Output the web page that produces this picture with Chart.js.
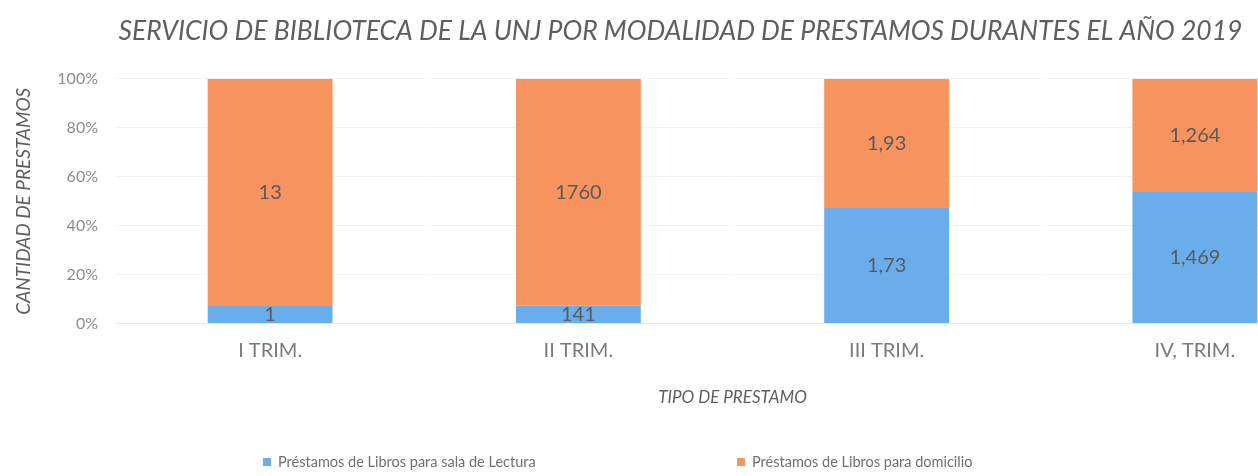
<!DOCTYPE html>
<html>
<head>
<meta charset="utf-8">
<script src="https://cdn.jsdelivr.net/npm/chart.js@4.4.0/dist/chart.umd.min.js"></script>
<style>
    html, body { margin: 0; padding: 0; background: #fff; overflow: hidden; }
    #wrap { position: absolute; left: 0; top: 0; width: 1376px; height: 476px; }
</style>
</head>
<body>
<div id="wrap"><canvas id="chart"></canvas></div>
<script>
var categories = ['I TRIM.', 'II TRIM.', 'III TRIM.', 'IV, TRIM.'];
var salaLectura = [1, 141, 1.73, 1469];
var domicilio = [13, 1760, 1.93, 1264];
var salaLecturaLabels = ['1', '141', '1,73', '1,469'];
var domicilioLabels = ['13', '1760', '1,93', '1,264'];
var yTicks = [0, 20, 40, 60, 80, 100];

var blue = '#69aeeb';
var orange = '#f7935f';
var textGray = '#707070';
var fontFamily = 'Lato, "Open Sans", sans-serif';

// stacked 100%: each bar share of the trimester total
function share(values, other) {
    return values.map(function (v, i) {
        return v / (v + other[i]) * 100;
    });
}

var segmentLabels = {
    id: 'segmentLabels',
    afterDatasetsDraw: function (chart) {
        var ctx = chart.ctx;
        ctx.save();
        ctx.font = '20px ' + fontFamily;
        ctx.fillStyle = '#5a5a5a';
        ctx.textAlign = 'center';
        ctx.textBaseline = 'middle';
        chart.data.datasets.forEach(function (ds, di) {
            chart.getDatasetMeta(di).data.forEach(function (bar, i) {
                var mid = (bar.y + bar.base) / 2;
                ctx.fillText(ds.valueLabels[i], bar.x, mid);
            });
        });
        ctx.restore();
    }
};

var bottomLegend = {
    id: 'bottomLegend',
    afterDraw: function (chart) {
        var ctx = chart.ctx;
        var slot = 474, box = 8;
        ctx.save();
        ctx.font = '14.5px ' + fontFamily;
        ctx.textBaseline = 'middle';
        var x = chart.width / 2 - 425;
        var y = 462;
        chart.data.datasets.forEach(function (ds) {
            ctx.fillStyle = ds.backgroundColor;
            ctx.fillRect(x, y - box / 2, box, box);
            ctx.fillStyle = textGray;
            ctx.fillText(ds.label, x + box + 7, y);
            x += slot;
        });
        ctx.restore();
    }
};

var ctx = document.getElementById('chart').getContext('2d');
var myChart = new Chart(ctx, {
    type: 'bar',
    data: {
        labels: categories,
        datasets: [
            {
                label: 'Préstamos de Libros para sala de Lectura',
                data: share(salaLectura, domicilio),
                valueLabels: salaLecturaLabels,
                backgroundColor: blue,
                barPercentage: 0.405,
                categoryPercentage: 1
            },
            {
                label: 'Préstamos de Libros para domicilio',
                data: share(domicilio, salaLectura),
                valueLabels: domicilioLabels,
                backgroundColor: orange,
                barPercentage: 0.405,
                categoryPercentage: 1
            }
        ]
    },
    options: {
        responsive: true,
        maintainAspectRatio: false,
        animation: false,
        layout: { padding: { left: 12, right: 27, top: 16, bottom: 68 } },
        plugins: {
            legend: { display: false },
            tooltip: { enabled: false },
            title: {
                display: true,
                text: 'SERVICIO DE BIBLIOTECA DE LA UNJ POR MODALIDAD DE PRESTAMOS DURANTES EL AÑO 2019',
                color: '#5e5e5e',
                font: { family: fontFamily, size: 26.5, style: 'italic', weight: 'normal' },
                padding: { top: 0, bottom: 31 }
            }
        },
        scales: {
            x: {
                stacked: true,
                grid: { display: false, drawTicks: false },
                border: { color: '#e6e6e6' },
                ticks: {
                    color: '#7a7a7a',
                    padding: 15,
                    font: { family: fontFamily, size: 20 }
                },
                title: {
                    display: true,
                    text: 'TIPO DE PRESTAMO',
                    color: '#5e5e5e',
                    padding: { top: 10, bottom: 0 },
                    font: { family: fontFamily, size: 17, style: 'italic' }
                }
            },
            y: {
                stacked: true,
                min: 0,
                max: 100,
                afterFit: function (scale) { scale.width = 104; },
                afterBuildTicks: function (scale) {
                    scale.ticks = yTicks.map(function (v) { return { value: v }; });
                },
                grid: { color: '#f3f3f3', drawTicks: false },
                border: { display: false },
                ticks: {
                    color: '#8c8c8c',
                    padding: 18,
                    font: { family: fontFamily, size: 16 },
                    callback: function (v) { return v + '%'; }
                },
                title: {
                    display: true,
                    text: 'CANTIDAD DE PRESTAMOS',
                    color: '#5e5e5e',
                    padding: { top: 0, bottom: 0 },
                    font: { family: fontFamily, size: 19, style: 'italic' }
                }
            }
        }
    },
    plugins: [segmentLabels, bottomLegend]
});
</script>
</body>
</html>
